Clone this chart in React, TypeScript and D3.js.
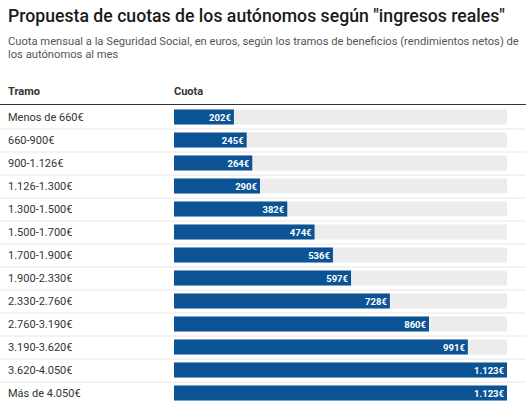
import React from 'react'
import * as d3 from 'd3'

const tramos = [
    'Menos de 660€',
    '660-900€',
    '900-1.126€',
    '1.126-1.300€',
    '1.300-1.500€',
    '1.500-1.700€',
    '1.700-1.900€',
    '1.900-2.330€',
    '2.330-2.760€',
    '2.760-3.190€',
    '3.190-3.620€',
    '3.620-4.050€',
    'Más de 4.050€',
]
const cuotas = [202, 245, 264, 290, 382, 474, 536, 597, 728, 860, 991, 1123, 1123]

const W = 526
const H = 414
const font = 'Roboto, sans-serif'
const fmt = (v: number) => d3.format(',')(v).replace(/,/g, '.') + '€'

export default function App() {
    const x = d3.scaleLinear().domain([0, d3.max(cuotas)!]).range([174, 507])
    const y = d3
        .scaleBand<string>()
        .domain(tramos)
        .range([105.5, 105.5 + 23 * tramos.length])
        .paddingInner(0)
    const bh = 15

    return (
        <svg width={W} height={H} style={{ position: 'absolute', left: 0, top: 0, fontFamily: font }}>
            <rect width={W} height={H} fill="#fff" />
            {/* title squeezed to the width it has in the original */}
            <text
                x={8}
                y={22}
                fontSize={18}
                fontWeight={500}
                fill="#1a1a1a"
                textLength={497}
                lengthAdjust="spacingAndGlyphs"
            >
                Propuesta de cuotas de los autónomos según "ingresos reales"
            </text>
            <text x={8} y={45} fontSize={11.2} fill="#555">
                Cuota mensual a la Seguridad Social, en euros, según los tramos de beneficios (rendimientos netos) de
            </text>
            <text x={8} y={58} fontSize={11.2} fill="#555">
                los autónomos al mes
            </text>

            <text x={8} y={95} fontSize={11} fontWeight={700} fill="#333">
                Tramo
            </text>
            <text x={174} y={95} fontSize={11} fontWeight={700} fill="#333">
                Cuota
            </text>
            <line x1={0} x2={W} y1={104.5} y2={104.5} stroke="#333" strokeWidth={1} />

            {tramos.map((t, i) => {
                const top = y(t)!
                const cy = top + y.bandwidth() / 2
                const v = cuotas[i]
                return (
                    <g key={t}>
                        {i < tramos.length - 1 && (
                            <line
                                x1={0}
                                x2={W}
                                y1={top + y.bandwidth() + 0.5}
                                y2={top + y.bandwidth() + 0.5}
                                stroke="#e6e6e6"
                            />
                        )}
                        <text x={8} y={cy + 4} fontSize={11} fill="#333">
                            {t}
                        </text>
                        <rect x={x(0)} y={cy - bh / 2} width={x.range()[1] - x(0)} height={bh} fill="#ececec" />
                        <rect x={x(0)} y={cy - bh / 2} width={x(v) - x(0)} height={bh} fill="#0b5394" />
                        <text
                            x={x(v) - 3}
                            y={cy + 3.5}
                            fontSize={9.5}
                            fontWeight={700}
                            fill="#fff"
                            textAnchor="end"
                        >
                            {fmt(v)}
                        </text>
                    </g>
                )
            })}
        </svg>
    )
}
